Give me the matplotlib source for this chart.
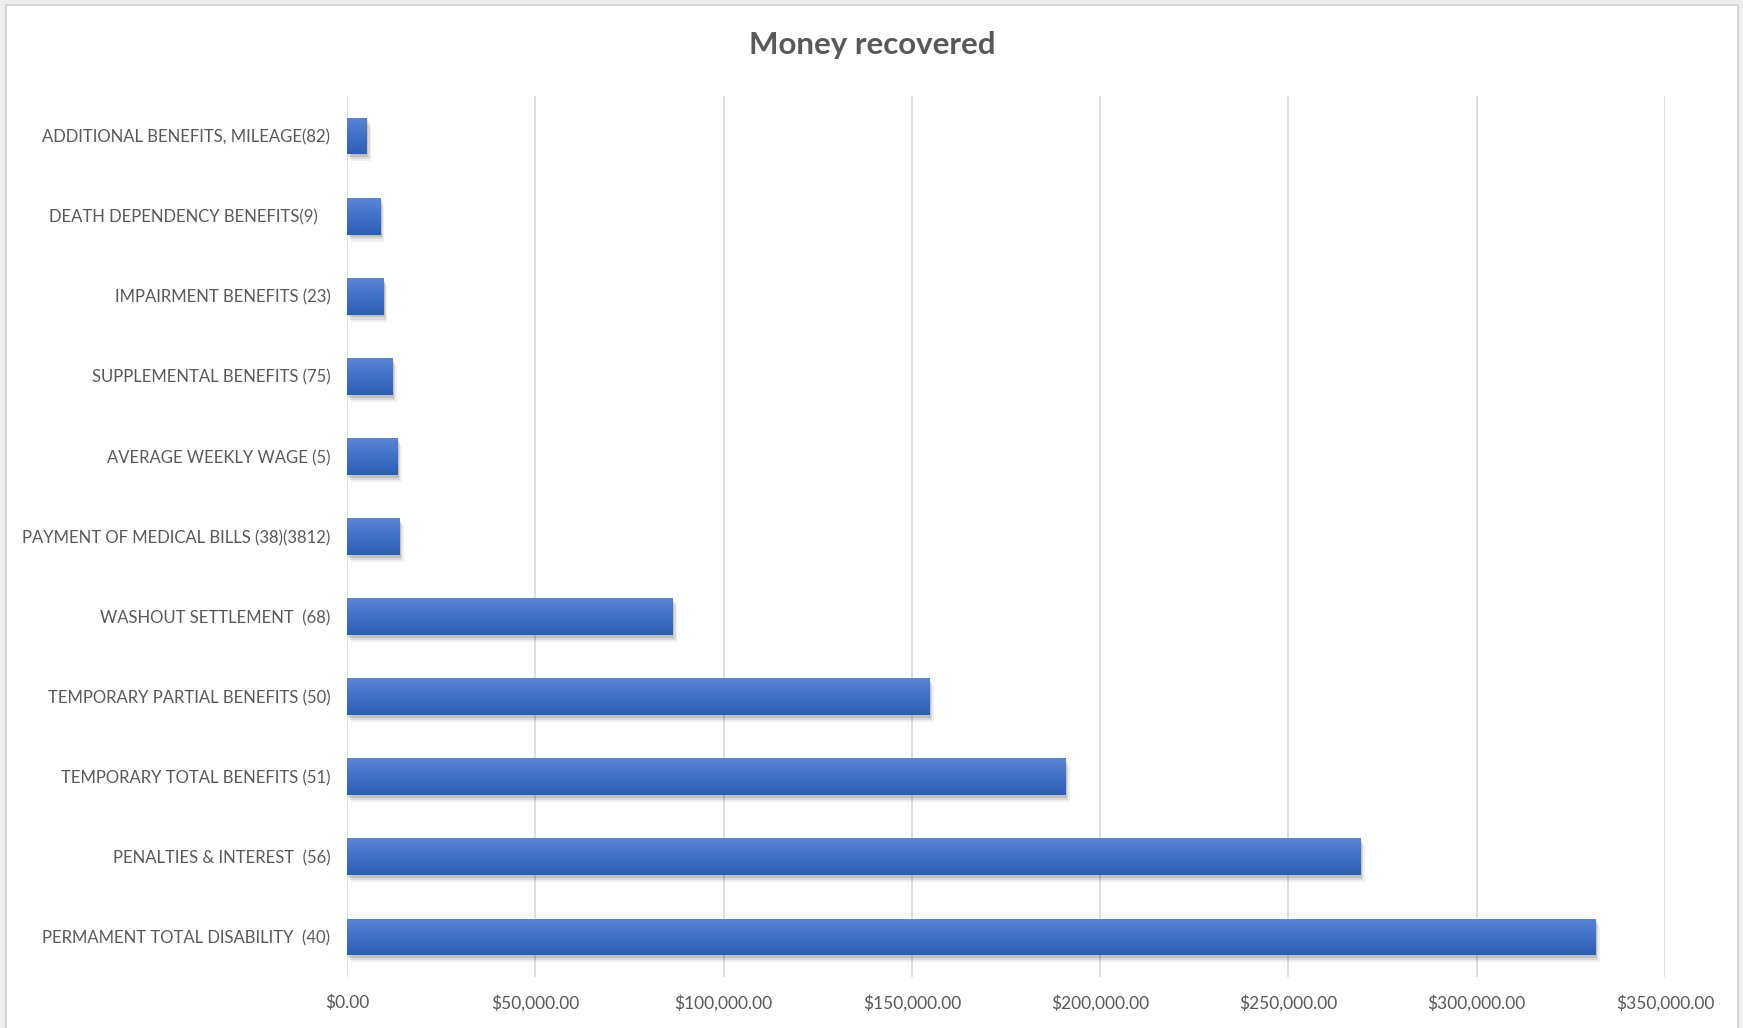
import numpy as np
import matplotlib
matplotlib.use('Agg')
import matplotlib.pyplot as plt
from matplotlib import patheffects
from matplotlib.colors import LinearSegmentedColormap
from matplotlib.ticker import FuncFormatter, MultipleLocator
from matplotlib.patches import Rectangle

# Categorias (de cima para baixo) e valores recuperados
categorias = [
    'ADDITIONAL BENEFITS, MILEAGE(82)',
    'DEATH DEPENDENCY BENEFITS(9)   ',
    'IMPAIRMENT BENEFITS (23)',
    'SUPPLEMENTAL BENEFITS (75)',
    'AVERAGE WEEKLY WAGE (5)',
    'PAYMENT OF MEDICAL BILLS (38)(3812)',
    'WASHOUT SETTLEMENT  (68)',
    'TEMPORARY PARTIAL BENEFITS (50)',
    'TEMPORARY TOTAL BENEFITS (51)',
    'PENALTIES & INTEREST  (56)',
    'PERMAMENT TOTAL DISABILITY  (40)',
]
valores = [5300, 8850, 9600, 12100, 13450, 13900,
           86500, 154700, 190800, 269100, 331500]

titulo = 'Money recovered'
cinza = '#595959'
fonte = ['Lato', 'DejaVu Sans']

fig = plt.figure(figsize=(17.43, 10.28), dpi=100)
fig.patch.set_facecolor('#eeeeee')
# Area branca do grafico com borda fina
fig.patches.append(Rectangle((6 / 1743, -0.01), 1732 / 1743, 1 - 5 / 1028 + 0.01,
                             transform=fig.transFigure, facecolor='white',
                             edgecolor='#d0d0d0', linewidth=1.2, zorder=-10))

ax = fig.add_axes([347 / 1743, 1 - 977 / 1028, (1665 - 347) / 1743, (977 - 96) / 1028])
ax.set_facecolor('none')

n = len(categorias)
y = np.arange(n)[::-1]
altura = 0.46

# Gradiente azul do topo (claro) para baixo (escuro)
cmap = LinearSegmentedColormap.from_list('azul', ['#5b85d3', '#4171c8', '#2f5cb5'])
grad = np.linspace(0, 1, 64).reshape(-1, 1)

# Sombra suave: varias camadas leves
sombra = [patheffects.withSimplePatchShadow(offset=(1, -2), shadow_rgbFace='black', alpha=0.12),
          patheffects.withSimplePatchShadow(offset=(2, -3.5), shadow_rgbFace='black', alpha=0.09),
          patheffects.withSimplePatchShadow(offset=(3, -5), shadow_rgbFace='black', alpha=0.06),
          patheffects.Normal()]
barras = ax.barh(y, valores, height=altura, color='#4171c8', zorder=3, path_effects=sombra)
for barra, yi, v in zip(barras, y, valores):
    im = ax.imshow(grad, extent=[0, v, yi - altura / 2, yi + altura / 2], origin='upper',
                   aspect='auto', cmap=cmap, zorder=4)
    im.set_clip_path(barra)

ax.set_xlim(0, 350000)
ax.set_ylim(-0.5, n - 0.5)
ax.xaxis.set_major_locator(MultipleLocator(50000))
ax.xaxis.set_major_formatter(FuncFormatter(lambda x, p: '$' + format(x, ',.2f')))
ax.set_yticks(y)
ax.set_yticklabels(categorias)

ax.grid(axis='x', color='#d9d9d9', linewidth=1.2, zorder=0)
ax.set_axisbelow(True)
for s in ax.spines.values():
    s.set_visible(False)
ax.tick_params(axis='both', length=0, colors=cinza)
ax.tick_params(axis='y', pad=12)
ax.tick_params(axis='x', pad=12.5)
for t in ax.get_yticklabels():
    t.set_fontfamily(fonte)
    t.set_fontsize(12.0)
    t.set_color(cinza)
for t in ax.get_xticklabels():
    t.set_fontfamily(fonte)
    t.set_fontsize(12.5)
    t.set_color(cinza)

fig.text(872 / 1743, 1 - 45 / 1028, titulo, ha='center', va='center',
         fontsize=22.5, fontweight='bold', color=cinza, family=fonte)

fig.savefig('out.png', dpi=100, facecolor=fig.get_facecolor())
